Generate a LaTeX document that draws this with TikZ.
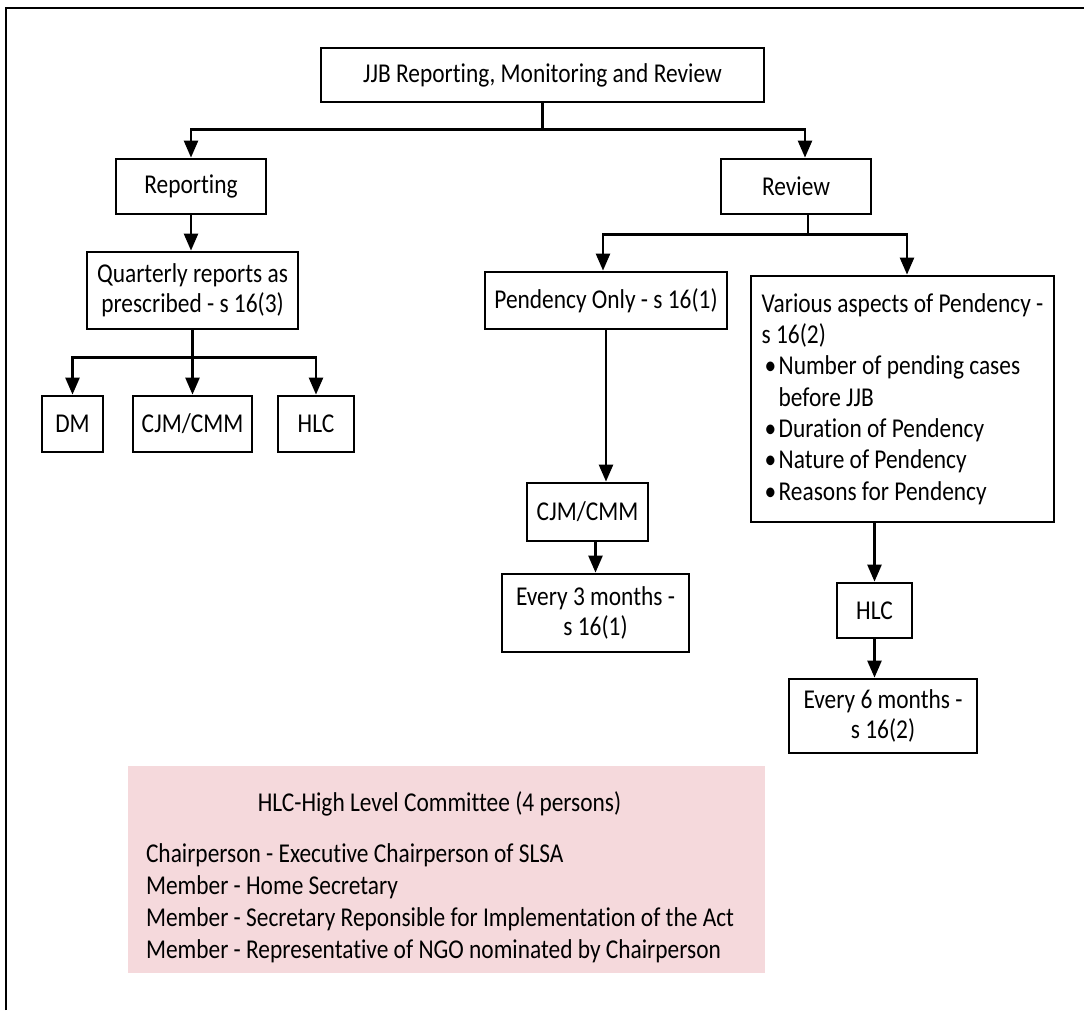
\documentclass[tikz,border=0pt]{standalone}
\usepackage{fontspec}
\setmainfont{Carlito}[Ligatures=NoCommon,FakeStretch=0.86]
\usetikzlibrary{arrows.meta,positioning}
\definecolor{notepink}{RGB}{245,217,220}

\begin{document}
\begin{tikzpicture}[x=1pt,y=-1pt,->,>={Triangle[length=17pt,width=14pt]},line width=2.5pt,
		font=\fontsize{27.2}{30}\selectfont]
	\tikzstyle{every node}=[inner sep=0pt]
	\tikzstyle{box}=[draw,line width=2.8pt,align=center]

	\useasboundingbox (0,0) rectangle (1084,1010);
	\draw[-,line width=2.6pt] (6,1010) -- (6,8) -- (1084,8);

	\node[box,minimum width=443pt,minimum height=54pt] (jjb) at (542.5,75) {JJB Reporting, Monitoring and Review};
	\node[box,minimum width=150pt,minimum height=55pt] (rep) at (191,186.5) {Reporting};
	\node[box,minimum width=150pt,minimum height=55pt] (rev) at (796,186.5) {Review};
	\node[box,minimum width=211pt,minimum height=77pt] (qtr) at (192.5,290.5) {Quarterly reports as\\prescribed - s 16(3)};
	\node[box,minimum width=61pt,minimum height=56pt] (dm) at (72.5,424) {DM};
	\node[box,minimum width=119pt,minimum height=56pt] (cjml) at (192.5,424) {CJM/CMM};
	\node[box,minimum width=76pt,minimum height=56pt] (hlcl) at (316,424) {HLC};
	\node[box,minimum width=242pt,minimum height=57pt] (pend) at (606,300.5) {Pendency Only - s 16(1)};
	\node[box,align=left,minimum width=303pt,minimum height=246pt,font=\fontsize{27.2}{31.3}\selectfont] (var) at (902.5,399)
		{Various aspects of Pendency -\\
		 s 16(2)\\
		 \hspace*{3pt}\makebox[14pt][l]{\textbullet}Number of pending cases\\
		 \hspace*{17pt}before JJB\\
		 \hspace*{3pt}\makebox[14pt][l]{\textbullet}Duration of Pendency\\
		 \hspace*{3pt}\makebox[14pt][l]{\textbullet}Nature of Pendency\\
		 \hspace*{3pt}\makebox[14pt][l]{\textbullet}Reasons for Pendency};
	\node[box,minimum width=121pt,minimum height=58pt] (cjmr) at (587.5,512) {CJM/CMM};
	\node[box,minimum width=187pt,minimum height=78pt] (ev3) at (595.5,613) {Every 3 months -\\s 16(1)};
	\node[box,minimum width=75pt,minimum height=55pt] (hlcr) at (874.5,610.5) {HLC};
	\node[box,minimum width=188pt,minimum height=74pt] (ev6) at (883,716) {Every 6 months -\\s 16(2)};

	% committee note
	\node[fill=notepink,minimum width=637pt,minimum height=207pt] (hlcnote) at (446.5,869.5) {};
	\node[anchor=base] (hlctitle) at ([xshift=-7pt,yshift=-47pt]hlcnote.north) {HLC-High Level Committee (4 persons)};
	\node[anchor=base west] (chair) at ([xshift=18pt,yshift=-98pt]hlcnote.north west) {Chairperson - Executive Chairperson of SLSA};
	\node[anchor=base west] (home) at ([xshift=18pt,yshift=-130pt]hlcnote.north west) {Member - Home Secretary};
	\node[anchor=base west] (secy) at ([xshift=18pt,yshift=-162pt]hlcnote.north west) {Member - Secretary Reponsible for Implementation of the Act};
	\node[anchor=base west] (ngo) at ([xshift=18pt,yshift=-194pt]hlcnote.north west) {Member - Representative of NGO nominated by Chairperson};

	\draw (jjb.south) -- ++(0,26) -| (rep.north);
	\draw (jjb.south) -- ++(0,26) -| ([xshift=9pt]rev.north);
	\draw (rep.south) -- (rep.south |- qtr.north);
	\draw (qtr.south) -- ++(0,27) -| (dm.north);
	\draw (qtr.south) -- ++(0,27) -| (cjml.north);
	\draw (qtr.south) -- ++(0,27) -| (hlcl.north);
	\draw ([xshift=12pt]rev.south) -- ++(0,19) -| ([xshift=-3pt]pend.north);
	\draw ([xshift=12pt]rev.south) -- ++(0,19) -| ([xshift=4.5pt]var.north);
	\draw (pend.south) -- (pend.south |- cjmr.north);
	\draw (ev3.north |- cjmr.south) -- (ev3.north);
	\draw (hlcr.north |- var.south) -- (hlcr.north);
	\draw (hlcr.south) -- (hlcr.south |- ev6.north);
\end{tikzpicture}
\end{document}
